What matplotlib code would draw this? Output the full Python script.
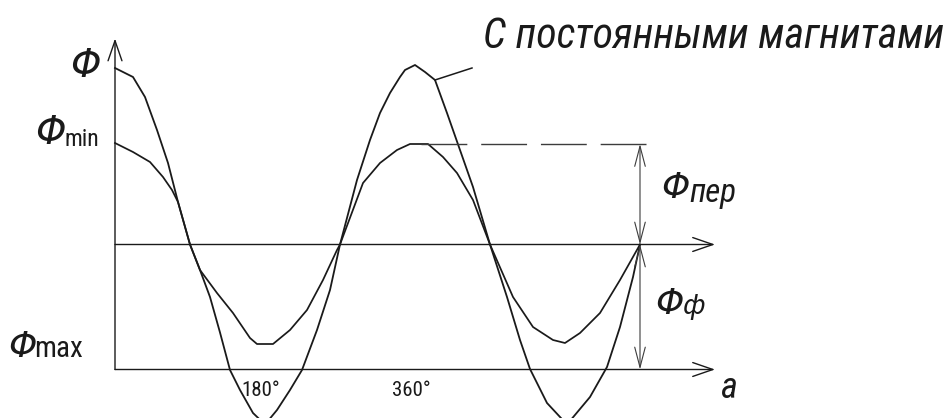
import matplotlib
matplotlib.use('Agg')
import matplotlib.pyplot as plt
from matplotlib import font_manager as fm

# ---------------- data (angle in degrees, flux in drawing units) ----------------
angle_big = [0, 21.6, 36, 50.4, 63.6, 75.6, 90, 102, 114, 126, 138, 150, 165.6, 180,
             194.4, 210, 224.4, 242.4, 258, 270, 290.4, 306, 318, 330, 342, 348, 360, 372,
             384, 398.4, 414, 429.6, 450, 470.4, 486, 498, 518.4, 542.4, 570, 590.4, 606,
             621.6, 630]
flux_big = [176.5, 167.5, 147.5, 114.5, 81.5, 42.5, 0, -25.5, -52.5, -88, -125.5, -145.5,
            -168.5, -180, -165.5, -145.5, -125.5, -85.5, -45.5, 0, 64.5, 104.5, 131.5,
            151.5, 167.5, 174.5, 179.5, 172.5, 164.5, 131.5, 94.5, 57.5, 0, -52.5, -95.5,
            -124.5, -158.5, -180, -152.5, -122.5, -82.5, -32.5, 0]

angle_small = [0, 21.6, 42, 57.6, 68.4, 75.6, 90, 102, 122.4, 141.6, 162, 170.4, 189.6,
               210, 230.4, 249.6, 266.4, 270, 297.6, 318, 338.4, 354, 375.6, 393.6, 410.4,
               429.6, 450, 477.6, 501.6, 525.6, 540, 558, 582, 606, 630]
flux_small = [101.5, 92.5, 82.5, 67.5, 54.5, 42.5, 0, -25.5, -48.5, -68.5, -93.5, -99.5,
              -99.5, -85.5, -65.5, -35.5, -5.5, 0, 61.5, 81.5, 94.5, 100.5, 100.5, 87.5,
              71.5, 44.5, 0, -52.5, -82.5, -95.5, -98.5, -88.5, -68.5, -35.5, 0]

axis_end = 720          # end of the angle axes (degrees)
flux_axis_top = 206     # top of the flux axis
flux_base = -125        # level of the lower (base) axis
flux_per_level = 100.5  # level of the small curve peak (Φпер)
dim_angle = 630         # angle of the dimension line

tick_values = [180, 360]
tick_labels = ['180°', '360°']
title_text = 'С постоянными магнитами'

# ---------------- fonts ----------------
names = {f.name for f in fm.fontManager.ttflist}
def pick(cands):
    for c in cands:
        if c in names:
            return c
    return 'DejaVu Sans'
narrow = pick(['Liberation Sans Narrow', 'Roboto Condensed', 'DejaVu Sans Condensed',
               'Open Sans Condensed', 'DejaVu Sans'])
main_font = 'DejaVu Sans'

ink = '#1a1a1a'
dim_ink = '#3c3c3c'

# ---------------- figure ----------------
W, H = 952, 418
fig = plt.figure(figsize=(W / 100, H / 100), dpi=100)
fig.patch.set_facecolor('white')
ax = fig.add_axes([0, 0, 1, 1])
ax.set_xlim(-138, 1004.4)
ax.set_ylim(-173.5, 244.5)
ax.axis('off')

# curves
ax.plot(angle_big, flux_big, color=ink, lw=1.3, solid_joinstyle='round')
ax.plot(angle_small, flux_small, color=ink, lw=1.25, solid_joinstyle='round')

# axes with open arrow heads
axis_arrow = dict(arrowstyle='->,head_length=1.45,head_width=0.5', lw=1.0, color=ink,
                  shrinkA=0, shrinkB=0)
ax.annotate('', xy=(0, flux_axis_top), xytext=(0, flux_base), arrowprops=axis_arrow)
ax.annotate('', xy=(axis_end, 0), xytext=(0, 0), arrowprops=axis_arrow)
ax.annotate('', xy=(axis_end, flux_base), xytext=(0, flux_base), arrowprops=axis_arrow)

# dashed extension line at Φпер level
ax.plot([367, 642], [flux_per_level, flux_per_level], color=dim_ink, lw=1.0,
        linestyle=(0, (33, 10)))

# dimension lines
dim_arrow = dict(arrowstyle='<->,head_length=1.45,head_width=0.38', lw=0.8, color=dim_ink,
                 shrinkA=0, shrinkB=0)
ax.annotate('', xy=(dim_angle, flux_per_level), xytext=(dim_angle, 0), arrowprops=dim_arrow)
ax.annotate('', xy=(dim_angle, 0), xytext=(dim_angle, flux_base), arrowprops=dim_arrow)

# leader line to the title
ax.plot([384, 428.4], [164.5, 176.5], color=ink, lw=1.1)

# ---------------- texts ----------------
def fx(px):
    return px / W
def fy(py):
    return 1 - py / H

texts_to_fit = []
def T(px, py, s, size, style='italic', family=None, ha='left', va='baseline', fit=None):
    t = fig.text(fx(px), fy(py), s, fontsize=size, style=style, color=ink,
                 family=family or main_font, ha=ha, va=va)
    if fit:
        texts_to_fit.append((t, fit))
    return t

# tick labels under the base axis
for v, lab in zip(tick_values, tick_labels):
    ax.text(v - 5, flux_base - 26, lab, fontsize=15, color=ink, family=narrow,
            ha='center', va='baseline')

# title
T(483, 48, title_text, 24, family=narrow, fit=462)

# flux labels
T(85, 77, 'Φ', 28, ha='center')
T(50, 144, 'Φ', 28, ha='center')
T(65, 146, 'min', 15, style='normal', family=narrow, fit=35)
T(22, 357, 'Φ', 26, ha='center')
T(34, 357, 'max', 15, style='normal', family=narrow, fit=49)
T(675, 198, 'Φ', 26, ha='center')
T(689, 202, 'пер', 17, family=narrow, fit=47)
T(669, 314, 'Φ', 26, ha='center')
T(683, 314, 'ф', 19, family=main_font)
T(728, 398, 'a', 26, family=narrow, ha='center')

# fit selected texts to their widths
fig.canvas.draw()
r = fig.canvas.get_renderer()
for t, w in texts_to_fit:
    cur = t.get_window_extent(r).width
    if cur > 0:
        t.set_fontsize(t.get_fontsize() * w / cur)

fig.savefig('out.png', dpi=100, facecolor='white')
